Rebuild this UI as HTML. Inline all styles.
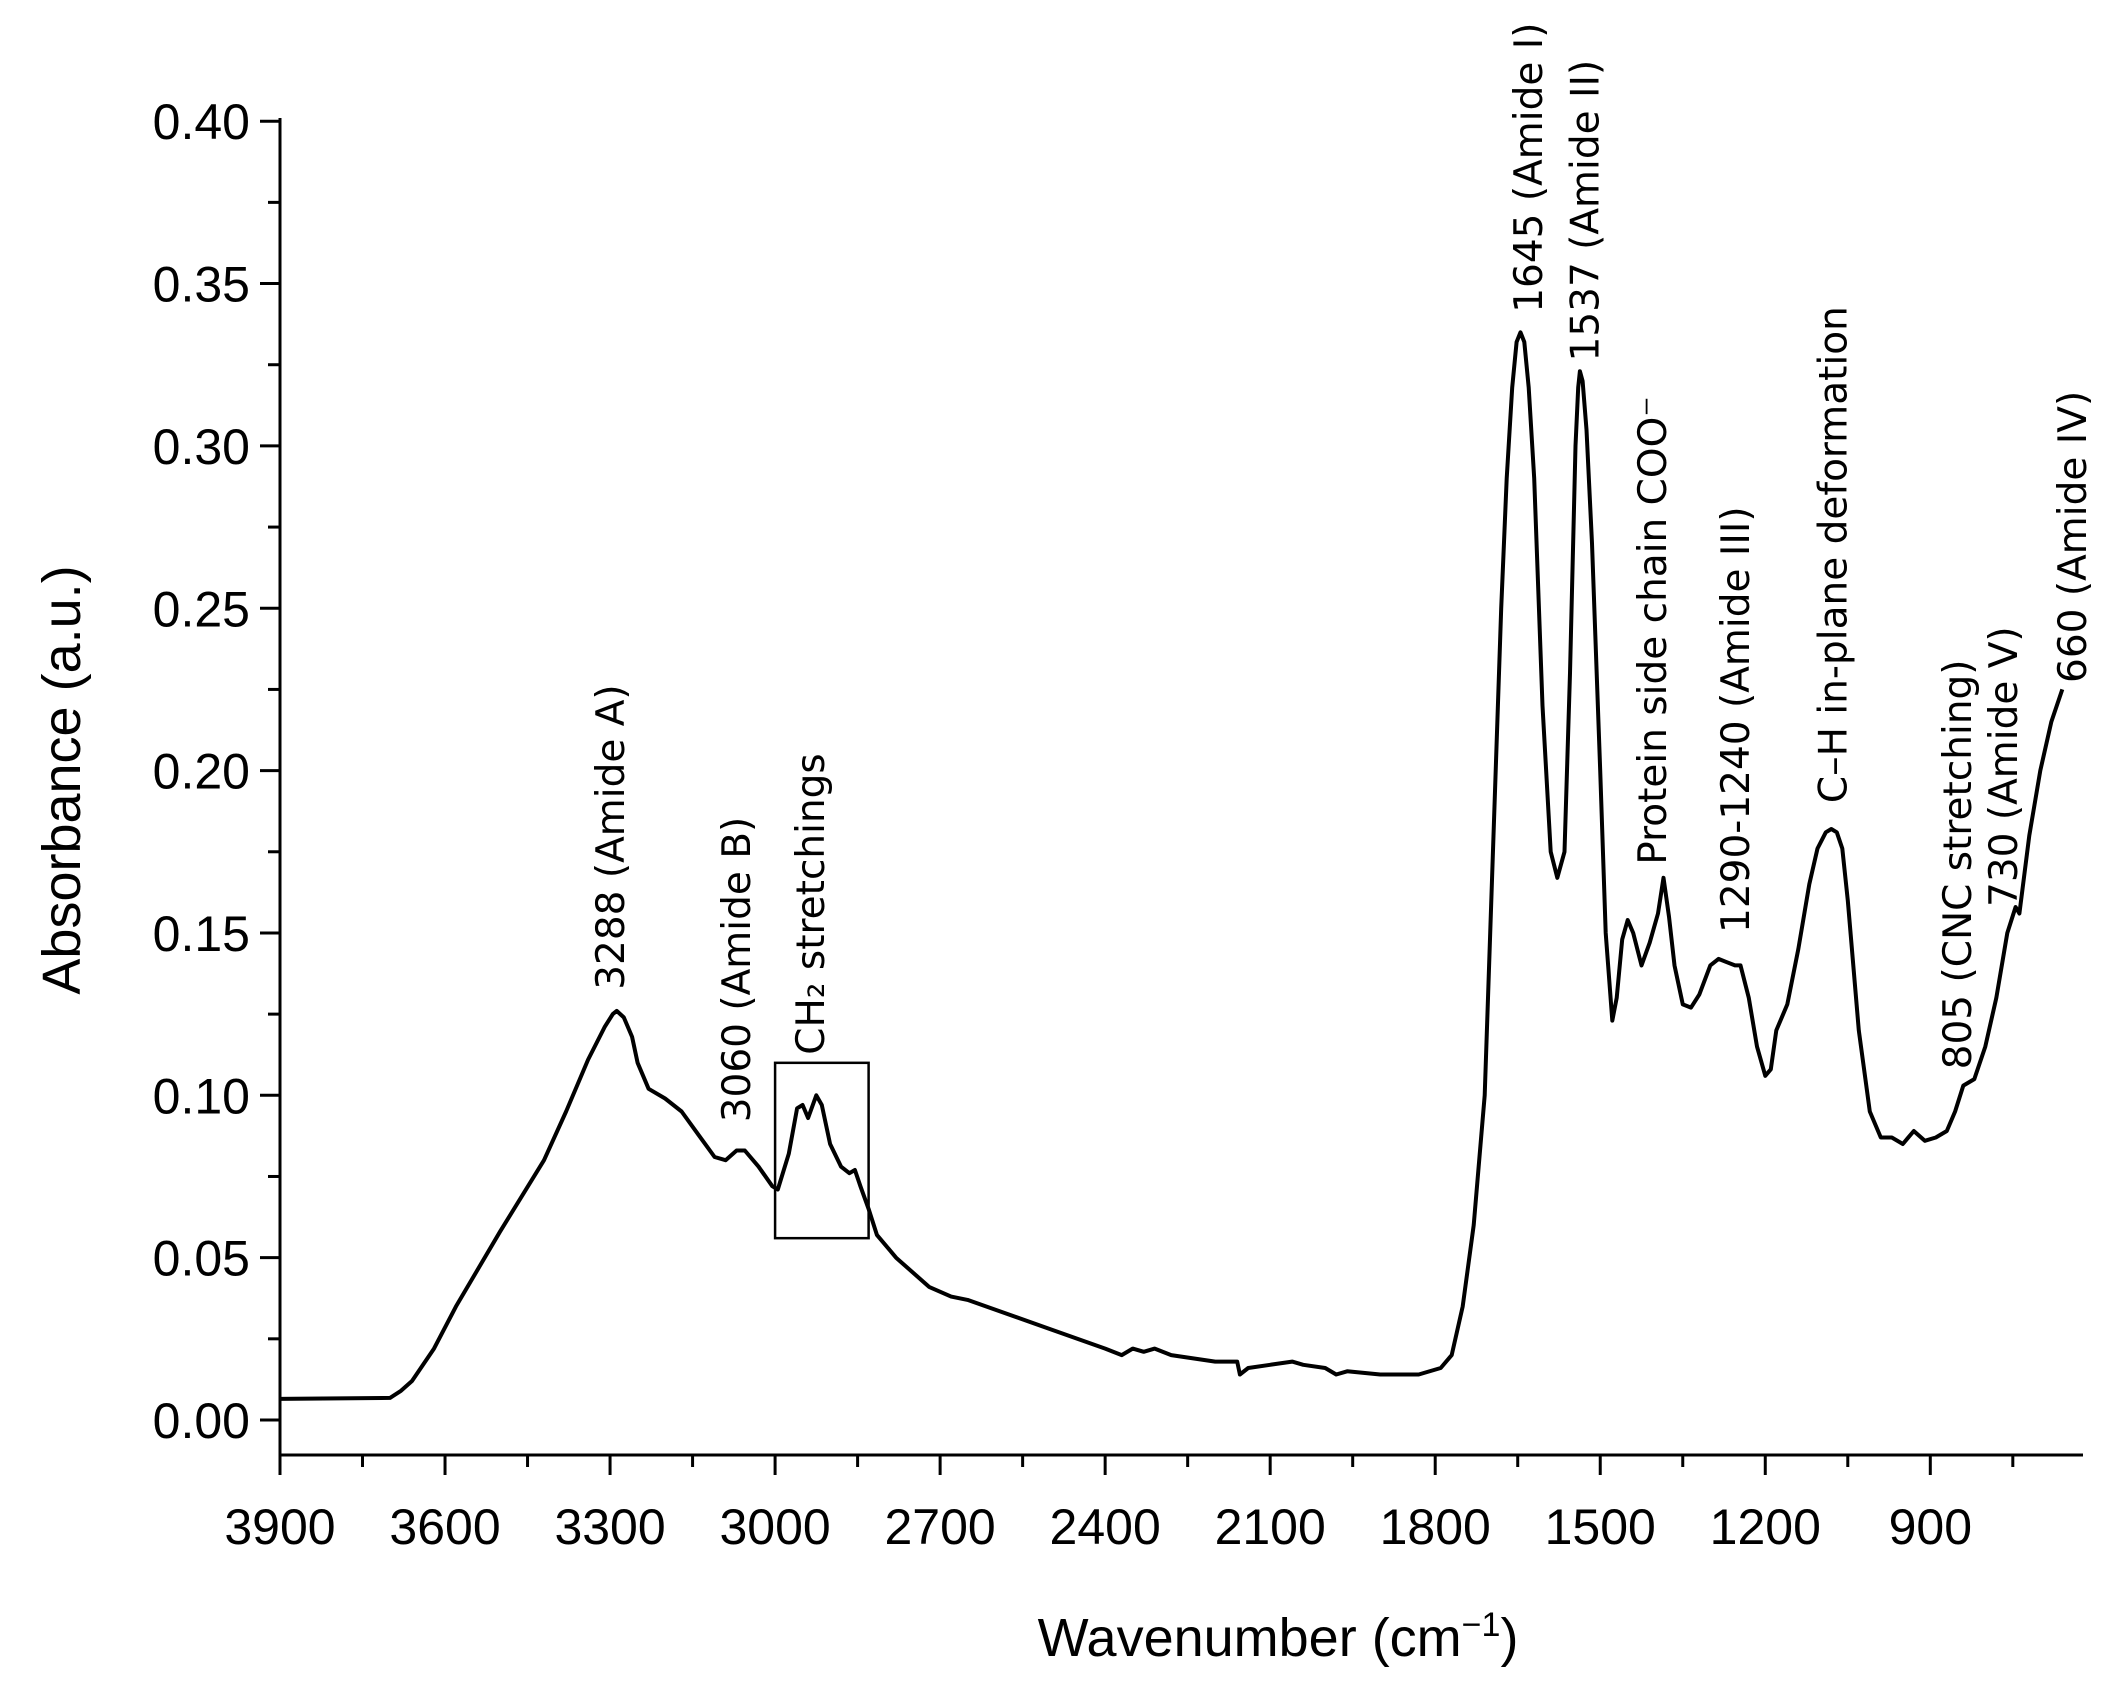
<!DOCTYPE html>
<html><head><meta charset="utf-8"><style>
html,body{margin:0;padding:0;background:#fff;width:2121px;height:1696px;overflow:hidden}
svg{display:block}
</style></head><body>
<svg id="chart" width="2121" height="1696" xmlns="http://www.w3.org/2000/svg">
<g id="axes"></g>
<g id="series"></g>
<g id="annots" font-family="'DejaVu Sans', sans-serif" font-size="39" fill="#000"></g>
<text x="62" y="780" transform="rotate(-90 62 780)" text-anchor="middle" dominant-baseline="central" font-family="'Liberation Sans', sans-serif" font-size="54">Absorbance (a.u.)</text>
<text x="1278" y="1656" text-anchor="middle" font-family="'Liberation Sans', sans-serif" font-size="54">Wavenumber (cm<tspan font-size="34" dy="-20">−1</tspan><tspan dy="20">)</tspan></text>
</svg>
<script>
const xTicks = [3900,3600,3300,3000,2700,2400,2100,1800,1500,1200,900];
const yTicks = [0,0.05,0.10,0.15,0.20,0.25,0.30,0.35,0.40];
const yTickLabels = ["0.00","0.05","0.10","0.15","0.20","0.25","0.30","0.35","0.40"];
const wavenumbers = [3900,3700,3680,3660,3620,3580,3500,3420,3380,3340,3310,3295,3288,3275,3260,3250,3230,3200,3170,3140,3110,3090,3070,3055,3030,3005,2995,2975,2960,2950,2940,2925,2915,2900,2880,2865,2855,2845,2830,2815,2780,2720,2680,2650,2600,2500,2400,2370,2350,2330,2310,2280,2200,2160,2155,2140,2100,2060,2040,2000,1980,1960,1900,1830,1790,1770,1750,1730,1710,1700,1690,1680,1670,1660,1652,1645,1638,1630,1620,1605,1590,1578,1565,1555,1545,1540,1537,1532,1525,1515,1500,1490,1478,1470,1460,1450,1440,1425,1410,1395,1385,1375,1365,1350,1335,1320,1300,1285,1270,1255,1245,1230,1215,1200,1190,1180,1160,1140,1120,1105,1090,1080,1070,1060,1050,1030,1010,990,970,950,930,910,890,870,855,840,820,800,780,760,745,738,720,700,680,660];
const absorbance = [0.0065,0.0068,0.009,0.012,0.022,0.035,0.058,0.080,0.095,0.111,0.121,0.125,0.126,0.124,0.118,0.110,0.102,0.099,0.095,0.088,0.081,0.080,0.083,0.083,0.078,0.072,0.071,0.082,0.096,0.097,0.093,0.100,0.097,0.085,0.078,0.076,0.077,0.072,0.065,0.057,0.050,0.041,0.038,0.037,0.034,0.028,0.022,0.020,0.022,0.021,0.022,0.020,0.018,0.018,0.014,0.016,0.017,0.018,0.017,0.016,0.014,0.015,0.014,0.014,0.016,0.020,0.035,0.060,0.100,0.150,0.200,0.250,0.290,0.318,0.332,0.335,0.332,0.318,0.290,0.220,0.175,0.167,0.175,0.230,0.300,0.318,0.323,0.320,0.305,0.270,0.200,0.150,0.123,0.130,0.148,0.154,0.150,0.140,0.147,0.156,0.167,0.155,0.140,0.128,0.127,0.131,0.140,0.142,0.141,0.140,0.140,0.130,0.115,0.106,0.108,0.120,0.128,0.145,0.165,0.176,0.181,0.182,0.181,0.176,0.160,0.120,0.095,0.087,0.087,0.085,0.089,0.086,0.087,0.089,0.095,0.103,0.105,0.115,0.130,0.150,0.158,0.156,0.180,0.200,0.215,0.225];
const annotLabels = ["3288 (Amide A)","3060 (Amide B)","CH₂ stretchings","1645 (Amide I)","1537 (Amide II)","Protein side chain COO⁻","1290-1240 (Amide III)","C–H in-plane deformation","805 (CNC stretching)","730 (Amide V)","660 (Amide IV)"];
const annotWavenumbers = [3275,3046,2911,1606,1503,1380,1230,1052,826,742,617];
const annotAbs = [0.1325,0.0917,0.1125,0.341,0.326,0.171,0.15,0.19,0.108,0.158,0.227];

const NS="http://www.w3.org/2000/svg";
const X0=280, XPX=0.5501, Y0=1420, YPX=3247;
const xs = w => X0 + (3900-w)*XPX;
const ys = a => Y0 - a*YPX;
const axisY=1455, xEnd=2083, yTop=118;
function mk(tag, attrs, parent){const e=document.createElementNS(NS,tag);for(const k in attrs)e.setAttribute(k,attrs[k]);parent.appendChild(e);return e;}
const axes=document.getElementById('axes');
let e;
e=mk('line',{x1:X0,y1:yTop,x2:X0,y2:axisY+2,stroke:'#000','stroke-width':3},axes);


e=mk('line',{x1:X0-1,y1:axisY,x2:xEnd,y2:axisY,stroke:'#000','stroke-width':3},axes);


xTicks.forEach((w,i)=>{
  const x=xs(w);
  e=mk('line',{x1:x,y1:axisY,x2:x,y2:axisY+20,stroke:'#000','stroke-width':3},axes);
  
  
  if(w-150>=660){const xm=xs(w-150);
    e=mk('line',{x1:xm,y1:axisY,x2:xm,y2:axisY+12,stroke:'#000','stroke-width':3},axes);
    
    }
  e=mk('text',{x:x,y:1544,'text-anchor':'middle','font-family':"'Liberation Sans', sans-serif",'font-size':50},axes);
  e.textContent=w;
  
  
});
yTicks.forEach((a,i)=>{
  const y=ys(a);
  e=mk('line',{x1:X0-20,y1:y,x2:X0,y2:y,stroke:'#000','stroke-width':3},axes);
  
  
  if(i<yTicks.length-1){const ym=ys(a+0.025);
    e=mk('line',{x1:X0-12,y1:ym,x2:X0,y2:ym,stroke:'#000','stroke-width':3},axes);
    
    }
  e=mk('text',{x:250,y:y+18,'text-anchor':'end','font-family':"'Liberation Sans', sans-serif",'font-size':50},axes);
  e.textContent=yTickLabels[i];
  
  
});
const series=document.getElementById('series');
let d='';
wavenumbers.forEach((w,i)=>{d+=(i?'L':'M')+xs(w).toFixed(1)+','+ys(absorbance[i]).toFixed(1);});
e=mk('path',{d:d,fill:'none',stroke:'#000','stroke-width':4,'stroke-linejoin':'round'},series);


e=mk('rect',{x:xs(3000),y:ys(0.11),width:xs(2830)-xs(3000),height:ys(0.056)-ys(0.11),fill:'none',stroke:'#000','stroke-width':2.5},series);


const annots=document.getElementById('annots');
annotLabels.forEach((t,i)=>{
  const x=xs(annotWavenumbers[i]), y=ys(annotAbs[i]);
  e=mk('text',{x:x,y:y,transform:`rotate(-90 ${x} ${y})`},annots);
  e.textContent=t;
  
  
});
</script>
</body></html>
